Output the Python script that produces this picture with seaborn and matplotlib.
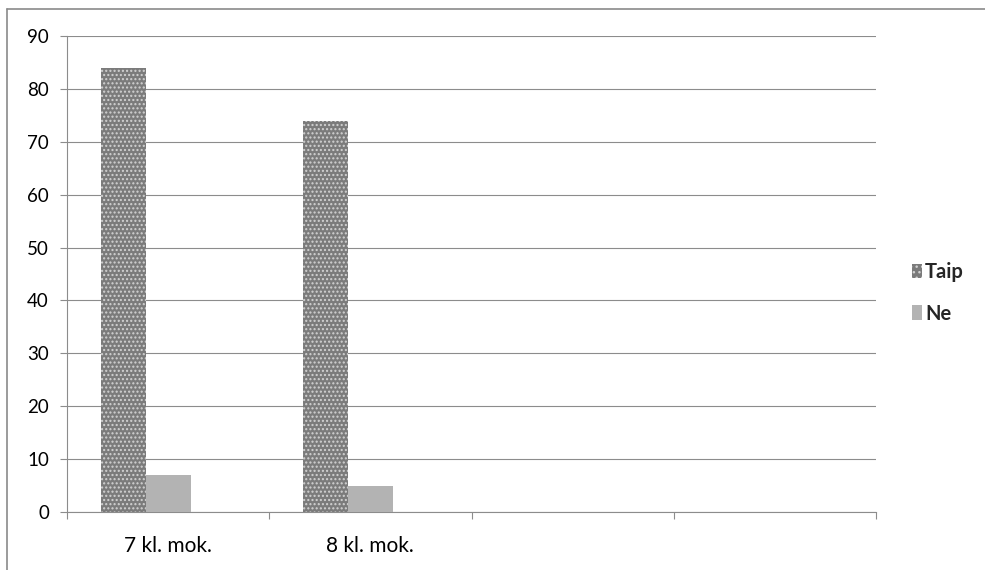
import matplotlib
matplotlib.use("Agg")
import matplotlib.pyplot as plt
from matplotlib.patches import Patch
from matplotlib.lines import Line2D
import seaborn as sns
import pandas as pd

# Survey answers per class
categories = ["7 kl. mok.", "8 kl. mok.", "cat3", "cat4"]
tick_labels = ["7 kl. mok.", "8 kl. mok.", "", ""]
series = ["Taip", "Ne", "spacer"]
taip_values = [84, 74]
ne_values = [7, 5]

df = pd.DataFrame({
    "klase": categories[:2] * 2,
    "atsakymas": ["Taip"] * 2 + ["Ne"] * 2,
    "proc": taip_values + ne_values,
})

sns.set_theme(style="white")
plt.rcParams["font.family"] = ["Lato", "DejaVu Sans"]

W, H = 985, 570
fig = plt.figure(figsize=(W / 100, H / 100), dpi=100)
ax = fig.add_axes([67 / W, 1 - 512 / H, (876 - 67) / W, (512 - 36) / H])

dark, light, dots = "#7b7b7b", "#b3b3b3", "#d2d2d2"
sns.barplot(data=df, x="klase", y="proc", hue="atsakymas",
            order=categories, hue_order=series,
            palette={"Taip": dark, "Ne": light, "spacer": "white"},
            width=0.668, dodge=True, legend=False, ax=ax,
            linewidth=0, saturation=1, zorder=3)

for bar in ax.containers[0]:
    bar.set_hatch("....")
    bar.set_edgecolor(dots)
    bar.set_linewidth(0)

ax.set_xlim(-0.5, len(categories) - 0.5)
ax.set_ylim(0, 90)
ax.set_yticks(range(0, 91, 10))
ax.set_xlabel("")
ax.set_ylabel("")

grid_c = "#8c8c8c"
ax.yaxis.grid(True, color=grid_c, linewidth=0.8, zorder=0)
ax.xaxis.grid(False)
for s in ["top", "right"]:
    ax.spines[s].set_visible(False)
for s in ["left", "bottom"]:
    ax.spines[s].set_color(grid_c)
    ax.spines[s].set_linewidth(0.8)

ax.set_xticks(range(len(categories)))
ax.set_xticklabels(tick_labels)
ax.set_xticks([i - 0.5 for i in range(len(categories) + 1)], minor=True)
ax.tick_params(axis="x", which="major", length=0, pad=17, labelsize=15, colors="black")
ax.tick_params(axis="x", which="minor", length=5, width=0.8, color=grid_c, direction="out", bottom=True)
ax.tick_params(axis="y", length=5, width=0.8, color=grid_c, direction="out", left=True,
               pad=8, labelsize=13.5, labelcolor="black")

handles = [Patch(facecolor=dark, edgecolor=dots, hatch="...", linewidth=0),
           Patch(facecolor=light, linewidth=0)]
leg = fig.legend(handles, series[:2], loc="center left",
                 bbox_to_anchor=(912 / W, 1 - 293 / H), frameon=False,
                 handlelength=0.5, handleheight=0.7, handletextpad=0.15,
                 labelspacing=1.05, borderpad=0, borderaxespad=0,
                 prop={"weight": "bold", "size": 14.5})

# chart frame
frame_c = "#8a8a8a"
fig.add_artist(Line2D([7 / W, 1], [1 - 8.5 / H] * 2, transform=fig.transFigure,
                      color=frame_c, linewidth=1.2))
fig.add_artist(Line2D([7 / W] * 2, [0, 1 - 8.5 / H], transform=fig.transFigure,
                      color=frame_c, linewidth=1.2))

fig.savefig("out.png", dpi=100)
